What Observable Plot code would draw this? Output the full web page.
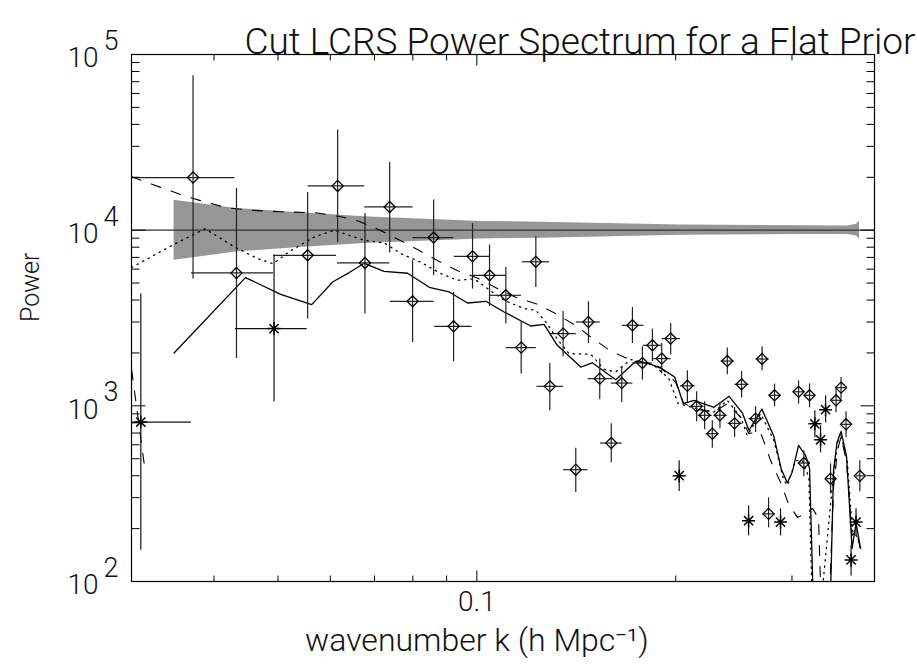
<!DOCTYPE html>
<html><head><meta charset="utf-8">
<script src="https://cdn.jsdelivr.net/npm/d3@7"></script>
<script src="https://cdn.jsdelivr.net/npm/@observablehq/plot@0.6"></script>
<style>
html,body{margin:0;padding:0;background:#fff;}
#chart{width:917px;height:670px;}
</style></head><body><div id="chart"></div>
<script>
// ---------- data (k in h/Mpc, Power) ----------
const titleText = "Cut LCRS Power Spectrum for a Flat Prior";
const xTitle = "wavenumber k (h Mpc\u207B\u00B9)";
const yTitle = "Power";

// diamonds: data points with error bars
const diamondK   = [0.03718,0.04326,0.05544,0.06155,0.0677,0.07379,0.07993,0.08601,0.09221,0.09851,0.10452,0.11063,0.11671,0.12283,0.12897,0.13508,0.14118,0.14756,0.15349,0.15977,0.16572,0.17201,0.17811,0.18442,0.19049,0.19655,0.20832,0.21517,0.22125,0.22725,0.23335,0.23944,0.2456,0.25166,0.26424,0.27029,0.27648,0.28231,0.30696,0.31268,0.31896,0.34318,0.34983,0.35598,0.36223,0.38007];
const diamondP   = [19930,5706,7195,17852,6505,13554,3937,9076,2836,7100,5536,4258,2145,6609,1291,2577,433.1,3001,1428,614,1348,2873,1753,2211,1857,2414,1300,993.4,883,694.4,883,1799,794.9,1326,845.5,1847,242.6,1148,1202,472.4,1148,384.9,1075,1270,784.6,399.3];
const diamondKlo = [0.029,0.03692,0.04919,0.05544,0.0614,0.06753,0.07379,0.07993,0.08619,0.09229,0.09851,0.10452,0.11063,0.11699,0.12313,0.12865,0.13508,0.14118,0.1472,0.15365,0.15949,0.16572,0.17201,0.1783,0.18442,0.19049,0.20302,0.21,0.21592,0.22202,0.22829,0.23392,0.2397,0.2456,0.25787,0.26424,0.27076,0.27648,0.30167,0.30696,0.31344,0.33729,0.34437,0.35044,0.35661,0.37442];
const diamondKhi = [0.04296,0.04914,0.06119,0.06753,0.07368,0.07993,0.08601,0.09208,0.09817,0.10438,0.11063,0.11659,0.12283,0.12865,0.13508,0.14118,0.14705,0.15349,0.16043,0.16572,0.17201,0.17873,0.18397,0.19049,0.19655,0.20302,0.21368,0.22048,0.2267,0.23229,0.23886,0.24475,0.25166,0.25787,0.26982,0.27648,0.28231,0.28827,0.31344,0.31896,0.32456,0.34922,0.35535,0.3616,0.36798,0.38637];
const diamondPhi = [76230,17389,16503,37403,12529,24459,6740,14941,4447,10947,8277,6172,3028,9232,1753,3466,578,3937,1857,794.9,1685,3653,2182,2752,2279,2961,1593,1209,1061,826.8,1047,2145,984.4,1578,993.4,2182,301.2,1338,1397,557.9,1343,470.5,1258,1459,930.5,489.4];
const diamondPlo = [5301,1871,3137,8565,3350,7455,2308,5536,1792,4650,3701,2938,1526,4748,942.6,1913,322.9,2279,1089,476.7,1051,2279,1410,1799,1526,1957,1051,816,734.9,578,744.6,1511,664.1,1114,709.2,1593,203.3,993.4,1029,396.7,980.5,317.4,918.4,1103,661.5,325.9];

// asterisks: second set of points
const starK   = [0.03099,0.04931,0.20246,0.25787,0.28827,0.3249,0.33142,0.33729,0.36862,0.37507];
const starP   = [808.6,2752,400.4,221.9,217.8,789.8,640.2,951.3,132.7,217.8];
const starKlo = [0.029,0.04303,0.20246,0.25787,0.28827,0.3249,0.33142,0.33729,0.36862,0.37507];
const starKhi = [0.03689,0.05525,0.20246,0.25787,0.28827,0.3249,0.33142,0.33729,0.36862,0.37507];
const starPhi = [4355,7261,489.4,271.3,260.8,942.6,774.4,1148,160.6,260.8];
const starPlo = [151.7,1061,327.2,183.0,183.0,661.5,543.5,805.4,108.3,183.0];

// solid curve
const solidK = [0.0348,0.04463,0.05047,0.05623,0.06055,0.06409,0.06753,0.07234,0.07855,0.08471,0.09081,0.09681,0.10318,0.10998,0.12067,0.12643,0.13237,0.14366,0.14954,0.16231,0.17399,0.18204,0.19049,0.1993,0.2053,0.21316,0.22856,0.24099,0.25228,0.25814,0.27011,0.28162,0.28907,0.29516,0.3003,0.30696,0.31453,0.31896,0.32796,0.33845,0.34679,0.35105,0.35598,0.36286,0.36989,0.37507,0.38104];
const solidP = [1998,5371,4315,3770,5083,5736,6479,5834,5684,4729,4447,3850,3937,3421,2847,2911,2211,1663,1757,1406,1792,1746,1629,1459,1029,1075,980.5,1133,912.4,725.2,958.8,670.2,434.8,365.3,419.7,595.7,522.6,440.6,10,10,429.2,619.7,715.7,515.7,154.3,214.1,154.3];

// dotted curve
const dottedK = [0.03,0.0348,0.03877,0.04296,0.04657,0.04914,0.05196,0.05674,0.06083,0.06753,0.07242,0.07674,0.08229,0.08822,0.09348,0.09906,0.1038,0.10998,0.11791,0.12283,0.12763,0.13246,0.13789,0.14876,0.15581,0.16231,0.17099,0.18545,0.19519,0.20176,0.21571,0.22856,0.23944,0.25078,0.2567,0.26888,0.28162,0.29159,0.29546,0.30378,0.31093,0.31818,0.32342,0.32683,0.3452,0.35129,0.35535,0.36375,0.37014,0.37669,0.38104];
const dottedP = [6124,8310,10185,8024,6891,6437,7533,9148,9987,8759,8455,7357,6565,5661,5184,5287,4650,3989,3577,3498,2950,2392,1983,1965,1614,1558,1833,1701,1434,1029,963.9,922,1075,863.6,679.1,902.8,636,376.5,352.6,489.4,489.4,393,40.5,40.5,344.8,609.1,697.2,489.4,195.4,179,157];

// dashed curve
const dashedK = [0.03,0.03349,0.03604,0.03891,0.04185,0.0455,0.05053,0.05707,0.06226,0.0663,0.07109,0.07621,0.08172,0.0873,0.09358,0.10035,0.10759,0.11497,0.12369,0.1326,0.14167,0.15033,0.16005,0.17159,0.17767,0.18982,0.2,0.20566,0.21517,0.22829,0.2397,0.25166,0.25787,0.26888,0.27839,0.28827,0.29649,0.30591,0.31236,0.32229,0.32911,0.33373,0.33959,0.34679,0.35166,0.35598,0.36286,0.36989,0.3757,0.38104];
const dashedP = [20116,17322,15701,14413,13414,12981,12729,12563,11921,11235,10052,8817,7683,6694,5872,5322,4638,4121,3785,3298,2836,2392,2030,1816,1781,1656,1361,1033,955,918.4,1033,848.9,697.2,706.3,489.4,366.7,274.8,231.7,241,260.8,228.7,40,40,343.5,557.9,670.2,476.7,183,195.4,150.3];
const dashedLeftK = [0.02944,0.03141];
const dashedLeftP = [2762,446];

// grey band around the flat prior
const bandK  = [0.0348,0.0432,0.0532,0.0687,0.1014,0.125,0.2035,0.309,0.364,0.3757,0.3797];
const bandHi = [14800,13300,12600,11900,11200,11100,10700,10600,10550,10800,11250];
const bandLo = [6750,7500,7950,8430,8920,9000,9360,9450,9460,9250,8890];
const priorLevel = [10000];

// axes
const xDomain = [0.03, 0.4];
const yDomain = [100, 100000];
const xMajorTicks = [0.1];
const xMajorLabels = ["0.1"];
const xMinorTicks = [0.04,0.05,0.06,0.07,0.08,0.09,0.2,0.3];
const yMajorTicks = [100,1000,10000,100000];
const yLabelBase = ["10","10","10","10"];
const yLabelExp = ["2","3","4","5"];
const yMinorTicks = [200,300,400,500,600,700,800,900,2000,3000,4000,5000,6000,7000,8000,9000,20000,30000,40000,50000,60000,70000,80000,90000];

// ---------- build ----------
const diamonds = diamondK.map((k,i)=>({k, p:diamondP[i], klo:diamondKlo[i], khi:diamondKhi[i], plo:diamondPlo[i], phi:diamondPhi[i]}));
const stars = starK.map((k,i)=>({k, p:starP[i], klo:starKlo[i], khi:starKhi[i], plo:starPlo[i], phi:starPhi[i]}));
const solid = solidK.map((k,i)=>({k, p:solidP[i]}));
const dotted = dottedK.map((k,i)=>({k, p:dottedP[i]}));
const dashed = dashedK.map((k,i)=>({k, p:dashedP[i]}));
const dashedLeft = dashedLeftK.map((k,i)=>({k, p:dashedLeftP[i]}));
const band = bandK.map((k,i)=>({k, lo:bandLo[i], hi:bandHi[i]}));
const yLabels = yMajorTicks.map((v,i)=>({v, base:yLabelBase[i], exp:yLabelExp[i]}));
const xLabels = xMajorTicks.map((v,i)=>({v, t:xMajorLabels[i]}));

const FONT = 'Roboto, "DejaVu Sans", sans-serif';
const FW = 300;
const TXT = "#111";
const tickH = len => ({draw(ctx){ctx.moveTo(0,0);ctx.lineTo(len,0);}});
const tickV = len => ({draw(ctx){ctx.moveTo(0,0);ctx.lineTo(0,len);}});
const starSymbol = {draw(ctx,size){
  const r = Math.sqrt(size/Math.PI), d = r*Math.SQRT1_2;
  ctx.moveTo(-r,0);ctx.lineTo(r,0);
  ctx.moveTo(0,-r);ctx.lineTo(0,r);
  ctx.moveTo(-d,-d);ctx.lineTo(d,d);
  ctx.moveTo(-d,d);ctx.lineTo(d,-d);
}};
const tickStyle = {stroke:"black", fill:"none", r:1, strokeWidth:1};
const txt = {fill:TXT, fontWeight:FW, fontFamily:FONT};

const chart = Plot.plot({
  width: 917, height: 670,
  marginLeft: 131, marginRight: 43, marginTop: 54, marginBottom: 89,
  style: {background:"white", fontFamily: FONT},
  x: {type:"log", domain:xDomain, axis:null},
  y: {type:"log", domain:yDomain, axis:null},
  marks: [
    Plot.areaY(band, {x:"k", y1:"lo", y2:"hi", fill:"#969696"}),
    Plot.ruleY(priorLevel, {stroke:"#333", strokeWidth:1.4}),
    Plot.line(dashedLeft, {x:"k", y:"p", stroke:"black", strokeWidth:1.1, strokeDasharray:"10,11", clip:true}),
    Plot.line(dashed, {x:"k", y:"p", stroke:"black", strokeWidth:1.1, strokeDasharray:"10,11", clip:true}),
    Plot.line(dotted, {x:"k", y:"p", stroke:"black", strokeWidth:1.3, strokeDasharray:"1.3,5", clip:true}),
    Plot.line(solid, {x:"k", y:"p", stroke:"black", strokeWidth:1.3, clip:true}),
    // error bars
    Plot.link(diamonds, {x1:"klo", x2:"khi", y1:"p", y2:"p", stroke:"#222", strokeWidth:1.2, clip:true}),
    Plot.link(diamonds, {x1:"k", x2:"k", y1:"plo", y2:"phi", stroke:"#222", strokeWidth:1.2, clip:true}),
    Plot.link(stars, {x1:"klo", x2:"khi", y1:"p", y2:"p", stroke:"#111", strokeWidth:1.2, clip:true}),
    Plot.link(stars, {x1:"k", x2:"k", y1:"plo", y2:"phi", stroke:"#111", strokeWidth:1.2, clip:true}),
    Plot.dot(diamonds, {x:"k", y:"p", symbol:"diamond2", r:5, stroke:"black", fill:"none", strokeWidth:1.3}),
    Plot.dot(stars, {x:"k", y:"p", symbol:starSymbol, r:6.5, stroke:"black", fill:"none", strokeWidth:1.5}),
    // frame and ticks
    Plot.frame({stroke:"black", strokeWidth:1.2}),
    Plot.dot(yMajorTicks, {y:d=>d, frameAnchor:"left", symbol:tickH(14), ...tickStyle}),
    Plot.dot(yMinorTicks, {y:d=>d, frameAnchor:"left", symbol:tickH(8), ...tickStyle}),
    Plot.dot(yMajorTicks, {y:d=>d, frameAnchor:"right", symbol:tickH(-14), ...tickStyle}),
    Plot.dot(yMinorTicks, {y:d=>d, frameAnchor:"right", symbol:tickH(-8), ...tickStyle}),
    Plot.dot(xMajorTicks, {x:d=>d, frameAnchor:"bottom", symbol:tickV(-11), ...tickStyle}),
    Plot.dot(xMinorTicks, {x:d=>d, frameAnchor:"bottom", symbol:tickV(-6), ...tickStyle}),
    Plot.dot(xMajorTicks, {x:d=>d, frameAnchor:"top", symbol:tickV(11), ...tickStyle}),
    Plot.dot(xMinorTicks, {x:d=>d, frameAnchor:"top", symbol:tickV(6), ...tickStyle}),
    // tick labels
    Plot.text(yLabels, {y:"v", frameAnchor:"left", text:"base", textAnchor:"end", dx:-33, dy:4, fontSize:28, ...txt}),
    Plot.text(yLabels, {y:"v", frameAnchor:"left", text:"exp", textAnchor:"end", dx:-13, dy:-13, fontSize:27, ...txt}),
    Plot.text(xLabels, {x:"v", frameAnchor:"bottom", text:"t", dy:29, fontSize:28, ...txt}),
    // titles
    Plot.text([xTitle], {x:()=>0.1, frameAnchor:"bottom", text:d=>d, dy:69, fontSize:32, ...txt}),
    Plot.text([yTitle], {frameAnchor:"left", text:d=>d, rotate:-90, dx:-101, dy:4, fontSize:25, ...txt}),
    Plot.text([titleText], {frameAnchor:"top-right", text:d=>d, textAnchor:"end", dx:41, dy:-27, fontSize:37, ...txt})
  ]
});
document.getElementById("chart").appendChild(chart);
</script></body></html>
